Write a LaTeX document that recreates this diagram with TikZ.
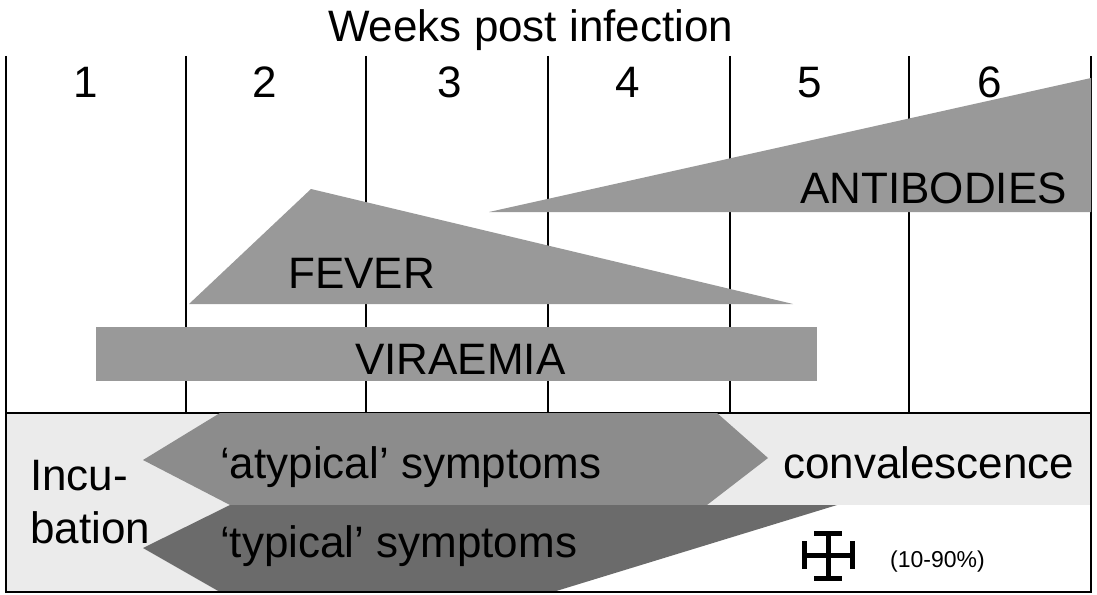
\documentclass[tikz,border=0pt]{standalone}
\usepackage{fontspec}
\setmainfont{Liberation Sans}
\definecolor{shapegray}{gray}{0.60}
\definecolor{atypgray}{gray}{0.55}
\definecolor{typgray}{gray}{0.42}
\definecolor{lowbg}{gray}{0.92}
\begin{document}
\begin{tikzpicture}[x=1pt,y=-1pt,
  gridline/.style={line width=1.8pt, black},
  lbl/.style={inner sep=0pt, font=\fontsize{44}{50}\selectfont},
  small/.style={inner sep=0pt, font=\fontsize{23}{26}\selectfont}]
\useasboundingbox (0,0) rectangle (1097,594);
\fill[white] (0,0) rectangle (1097,594);
% lower panel background
\fill[lowbg] (6,413) rectangle (1091,592);
\fill[white] (500,505) rectangle (1091,592);
% grid
\foreach \x in {186,366,548,730,909} \draw[gridline] (\x,56) -- (\x,413);
\draw[gridline] (6,56) -- (6,592) -- (1091,592) -- (1091,56);
\draw[gridline] (6,413) -- (1091,413);
% upper shapes
\fill[shapegray] (489,212) -- (1091,78) -- (1091,212) -- cycle;
\fill[shapegray] (189,304) -- (311,189) -- (793,304) -- cycle;
\fill[shapegray] (96,327) rectangle (817,381);
% lower shapes
\fill[atypgray] (220,413) -- (717,413) -- (768,458) -- (707,505) -- (230,505) -- (143,460) -- cycle;
\fill[typgray] (230,505) -- (837,505) -- (553,592) -- (220,592) -- (143,548) -- cycle;
\draw[gridline] (6,592) -- (1091,592);
% cross
\draw[line width=5pt] (828,533) -- (828,578);
\draw[line width=5pt] (814,533) -- (842,533);
\draw[line width=5pt] (814,578) -- (842,578);
\draw[line width=5pt] (804,555) -- (852,555);
\draw[line width=5pt] (804,541) -- (804,569);
\draw[line width=5pt] (852,541) -- (852,569);
% texts
\node[lbl, anchor=base west] (title) at (328,42) {Weeks post infection};
\node[lbl, anchor=base] (w1) at (86,97) {1};
\node[lbl, anchor=base] (w2) at (265,97) {2};
\node[lbl, anchor=base] (w3) at (450,97) {3};
\node[lbl, anchor=base] (w4) at (628,97) {4};
\node[lbl, anchor=base] (w5) at (810,97) {5};
\node[lbl, anchor=base] (w6) at (990,97) {6};
\node[lbl, anchor=base west] (fever) at (288,288) {FEVER};
\node[lbl, anchor=base west] (vir) at (355,374) {VIRAEMIA};
\node[lbl, anchor=base west] (anti) at (800,203) {ANTIBODIES};
\node[lbl, anchor=base west] (atyp) at (220,478) {‘atypical’ symptoms};
\node[lbl, anchor=base west] (typ) at (220,557) {‘typical’ symptoms};
\node[lbl, anchor=base west] (incu) at (30,490) {Incu-};
\node[lbl, anchor=base west] (bat) at (30,543) {bation};
\node[lbl, anchor=base west] (conv) at (783,478) {convalescence};
\node[small, anchor=base west] (pct) at (890,567) {(10-90\%)};
\end{tikzpicture}
\end{document}
